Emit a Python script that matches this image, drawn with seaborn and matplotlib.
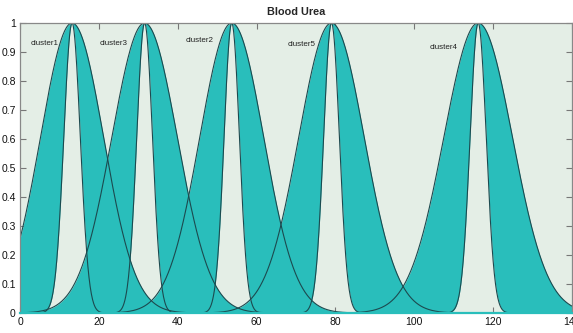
import numpy as np
import pandas as pd
import matplotlib
matplotlib.use("Agg")
import matplotlib.pyplot as plt
import seaborn as sns

# cluster parameters (gaussian type-2 sets)
clusters = ["cluster1", "cluster2", "cluster3", "cluster4", "cluster5"]
centers = [13.2, 53.7, 31.6, 116.2, 79.0]
sigma_upper = [8.0, 8.1, 8.3, 8.7, 8.3]
sigma_lower = [2.1, 1.95, 2.0, 2.05, 2.0]
label_x = [2.8, 42.0, 20.3, 103.8, 67.8]
label_y = [0.93, 0.94, 0.93, 0.915, 0.925]
x_ticks = [0, 20, 40, 60, 80, 100, 120, 140]
y_ticks = [0, 0.1, 0.2, 0.3, 0.4, 0.5, 0.6, 0.7, 0.8, 0.9, 1]

teal = "#29BEBB"
edge = "#1C4A4F"
bg = "#E4EEE6"

sns.set_style("ticks")
plt.rcParams["font.family"] = ["Liberation Sans", "DejaVu Sans"]

xs = np.linspace(0, 140, 1401)
rows = []
for name, c, su, sl in zip(clusters, centers, sigma_upper, sigma_lower):
    rows.append(pd.DataFrame({"x": xs, "cluster": name, "bound": "upper",
                              "mu": np.exp(-(xs - c) ** 2 / (2 * su ** 2))}))
    rows.append(pd.DataFrame({"x": xs, "cluster": name, "bound": "lower",
                              "mu": np.exp(-(xs - c) ** 2 / (2 * sl ** 2))}))
df = pd.concat(rows, ignore_index=True)

fig = plt.figure(figsize=(5.73, 3.33), dpi=100)
ax = fig.add_axes([20 / 573, 20 / 333, 552 / 573, 290 / 333])
ax.set_facecolor(bg)

# footprint of uncertainty: band between upper and lower membership
for name in clusters:
    up = df[(df.cluster == name) & (df.bound == "upper")]
    lo = df[(df.cluster == name) & (df.bound == "lower")]
    ax.fill_between(up["x"].values, lo["mu"].values, up["mu"].values,
                    color=teal, linewidth=0, zorder=1)

sns.lineplot(data=df, x="x", y="mu", units=df["cluster"] + df["bound"],
             estimator=None, color=edge, linewidth=0.8, ax=ax, zorder=2,
             legend=False)

for name, lx, ly in zip(clusters, label_x, label_y):
    ax.text(lx, ly, name, fontsize=5.8, color="#222222", ha="left", va="center")

ax.set_xlim(0, 140)
ax.set_ylim(0, 1)
ax.set_xticks(x_ticks)
ax.set_yticks(y_ticks)
ax.set_yticklabels([f"{v:g}" for v in y_ticks])
ax.tick_params(direction="in", top=True, right=True, length=4, width=0.8,
               color="#777777", labelsize=7.5, pad=3, labelcolor="#111111")
for s in ax.spines.values():
    s.set_color("#888888")
    s.set_linewidth(0.9)
ax.spines["bottom"].set_color(teal)
ax.spines["bottom"].set_linewidth(1.6)
ax.set_xlabel("")
ax.set_ylabel("")
ax.set_title("Blood Urea", fontsize=7.8, fontweight="bold", pad=6)

fig.savefig("out.png", dpi=100, facecolor="white")
